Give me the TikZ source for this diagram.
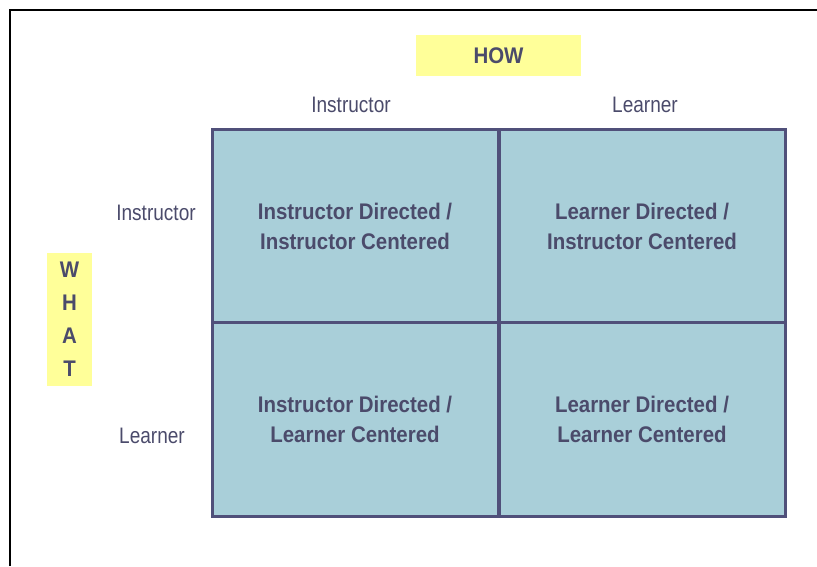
\documentclass[tikz,border=0pt]{standalone}
\usepackage{fontspec}
\setmainfont{Liberation Sans}[FakeStretch=0.85, BoldFeatures={FakeStretch=0.905}]
\usetikzlibrary{positioning}
\definecolor{inkgrey}{HTML}{4B4B6B}
\definecolor{gridline}{HTML}{50507A}
\definecolor{cellblue}{HTML}{A9CFD9}
\definecolor{notepad}{HTML}{FFFF99}
\begin{document}
\begin{tikzpicture}[x=1pt,y=1pt,
        cell/.style={draw=gridline, line width=3pt, fill=cellblue, minimum width=286pt, minimum height=193.5pt, inner sep=0pt, align=center, text=inkgrey, font=\fontsize{22.6}{30}\selectfont\bfseries},
        axis/.style={text=inkgrey, font=\fontsize{22.4}{27}\selectfont},
        tag/.style={fill=notepad, inner sep=0pt, text=inkgrey, align=center, font=\fontsize{22.6}{33}\selectfont\bfseries}]
        \useasboundingbox (0,0) rectangle (817,566);
        \draw[line width=2pt] (10,0) -- (10,556) -- (817,556);
        % the four cells
        \node[cell] (ii) at (355,340) {Instructor Directed /\\Instructor Centered};
        \node[cell] (li) at (642,340) {Learner Directed /\\Instructor Centered};
        \node[cell] (il) at (355,146.5) {Instructor Directed /\\Learner Centered};
        \node[cell] (ll) at (642,146.5) {Learner Directed /\\Learner Centered};
        % axis labels
        \node[axis] (hi) at (351,461) {Instructor};
        \node[axis] (hl) at (645,461) {Learner};
        \node[axis] (wi) at (156,353) {Instructor};
        \node[axis] (wl) at (152,130) {Learner};
        \node[tag, minimum width=165pt, minimum height=41pt] (how) at (498.5,510.5) {HOW};
        \node[tag, minimum width=45pt, minimum height=133pt] (what) at (69.5,246.5) {W\\H\\A\\T};
    \end{tikzpicture}
\end{document}
